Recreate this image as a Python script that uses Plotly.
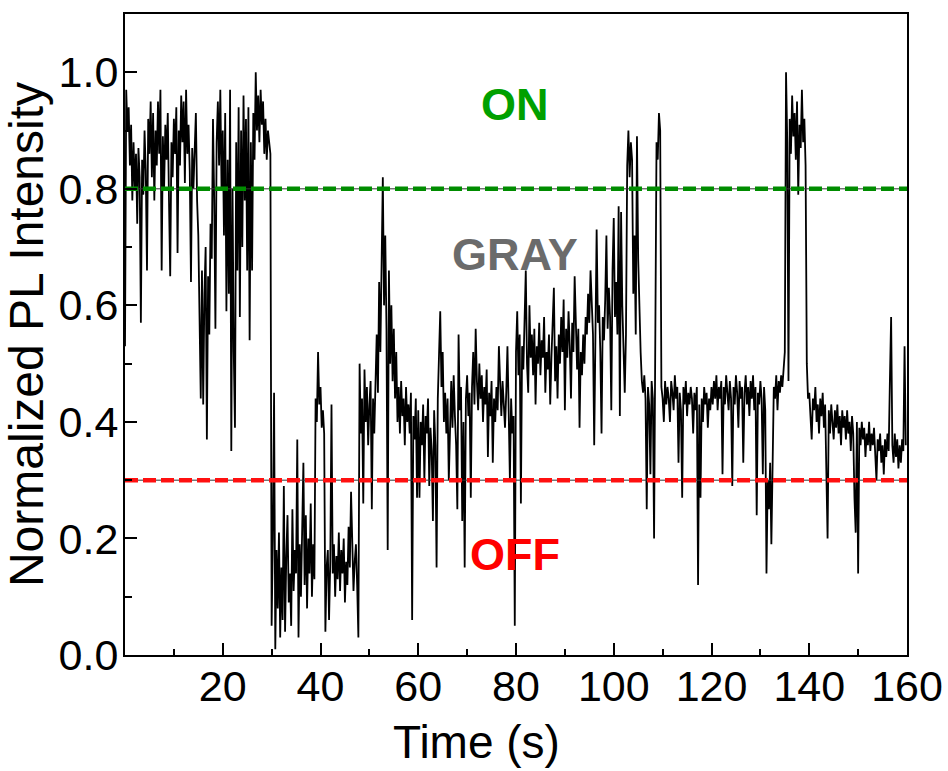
import plotly.graph_objects as go

STEP = 0.25

# Normalized PL intensity, in 20 s blocks
block_00_20 = [0.53, 0.97, 0.90, 0.94, 0.84, 0.91, 0.78, 0.88, 0.80, 0.86, 0.74, 0.87, 0.82, 0.57, 0.85, 0.79,
               0.90, 0.83, 0.66, 0.92, 0.86, 0.95, 0.82, 0.93, 0.78, 0.90, 0.84, 0.95, 0.86, 0.97, 0.66, 0.89,
               0.80, 0.91, 0.85, 0.93, 0.78, 0.65, 0.88, 0.82, 0.92, 0.86, 0.94, 0.69, 0.90, 0.84, 0.96, 0.88,
               0.95, 0.81, 0.97, 0.86, 0.91, 0.83, 0.64, 0.87, 0.80, 0.89, 0.93, 0.78, 0.72, 0.58, 0.44, 0.66,
               0.43, 0.62, 0.70, 0.37, 0.65, 0.55, 0.74, 0.68, 0.92, 0.78, 0.56, 0.88, 0.95, 0.84, 0.97, 0.80]
block_20_40 = [0.90, 0.72, 0.93, 0.59, 0.85, 0.62, 0.97, 0.35, 0.80, 0.52, 0.39, 0.88, 0.66, 0.94, 0.58, 0.90,
               0.70, 0.96, 0.78, 0.92, 0.66, 0.94, 0.54, 0.88, 0.66, 0.93, 0.85, 1.00, 0.90, 0.96, 0.88, 0.97,
               0.91, 0.95, 0.86, 0.92, 0.85, 0.90, 0.88, 0.86, 0.05, 0.20, 0.45, 0.01, 0.18, 0.08, 0.21, 0.03,
               0.15, 0.06, 0.29, 0.04, 0.17, 0.24, 0.09, 0.14, 0.05, 0.25, 0.11, 0.18, 0.14, 0.37, 0.03, 0.19,
               0.10, 0.22, 0.33, 0.12, 0.24, 0.08, 0.20, 0.14, 0.26, 0.10, 0.19, 0.13, 0.44, 0.40, 0.52, 0.43]
block_40_60 = [0.46, 0.39, 0.42, 0.38, 0.04, 0.15, 0.18, 0.06, 0.16, 0.43, 0.14, 0.19, 0.10, 0.17, 0.13, 0.21,
               0.11, 0.18, 0.14, 0.20, 0.09, 0.16, 0.12, 0.22, 0.15, 0.28, 0.18, 0.11, 0.16, 0.19, 0.12, 0.03,
               0.50, 0.38, 0.44, 0.26, 0.49, 0.40, 0.46, 0.36, 0.43, 0.47, 0.25, 0.44, 0.38, 0.48, 0.55, 0.45,
               0.64, 0.52, 0.70, 0.82, 0.60, 0.72, 0.56, 0.18, 0.66, 0.50, 0.60, 0.47, 0.56, 0.44, 0.52, 0.40,
               0.46, 0.38, 0.47, 0.41, 0.44, 0.36, 0.46, 0.40, 0.43, 0.38, 0.45, 0.06, 0.41, 0.37, 0.44, 0.27]
block_60_80 = [0.42, 0.27, 0.40, 0.36, 0.43, 0.30, 0.41, 0.38, 0.44, 0.29, 0.39, 0.35, 0.23, 0.42, 0.36, 0.15,
               0.44, 0.50, 0.59, 0.46, 0.52, 0.40, 0.45, 0.38, 0.44, 0.30, 0.42, 0.47, 0.39, 0.48, 0.41, 0.36,
               0.25, 0.55, 0.42, 0.46, 0.23, 0.40, 0.15, 0.44, 0.48, 0.41, 0.45, 0.27, 0.46, 0.52, 0.43, 0.56,
               0.47, 0.42, 0.50, 0.44, 0.48, 0.40, 0.46, 0.43, 0.49, 0.34, 0.45, 0.41, 0.47, 0.33, 0.44, 0.40,
               0.46, 0.42, 0.53, 0.45, 0.41, 0.47, 0.43, 0.39, 0.45, 0.53, 0.42, 0.30, 0.44, 0.38, 0.41, 0.05]
block_80_100 = [0.52, 0.59, 0.48, 0.55, 0.26, 0.53, 0.49, 0.57, 0.66, 0.50, 0.45, 0.60, 0.51, 0.55, 0.48, 0.56,
                0.43, 0.53, 0.50, 0.57, 0.48, 0.54, 0.51, 0.58, 0.45, 0.52, 0.49, 0.55, 0.43, 0.51, 0.56, 0.63,
                0.47, 0.53, 0.44, 0.55, 0.50, 0.58, 0.52, 0.61, 0.42, 0.56, 0.51, 0.59, 0.53, 0.44, 0.57, 0.52,
                0.65, 0.54, 0.49, 0.56, 0.39, 0.52, 0.48, 0.55, 0.50, 0.58, 0.55, 0.62, 0.57, 0.66, 0.59, 0.55,
                0.36, 0.61, 0.73, 0.57, 0.60, 0.52, 0.38, 0.58, 0.54, 0.61, 0.72, 0.56, 0.63, 0.58, 0.42, 0.66]
block_100_120 = [0.75, 0.58, 0.64, 0.55, 0.77, 0.41, 0.76, 0.60, 0.52, 0.45, 0.55, 0.84, 0.90, 0.82, 0.88, 0.85,
                 0.62, 0.72, 0.55, 0.89, 0.68, 0.58, 0.52, 0.47, 0.45, 0.48, 0.44, 0.25, 0.46, 0.43, 0.31, 0.47,
                 0.44, 0.20, 0.60, 0.88, 0.85, 0.93, 0.90, 0.46, 0.44, 0.40, 0.47, 0.43, 0.46, 0.44, 0.40, 0.47,
                 0.45, 0.42, 0.48, 0.44, 0.46, 0.33, 0.45, 0.42, 0.27, 0.46, 0.43, 0.47, 0.41, 0.45, 0.43, 0.46,
                 0.44, 0.38, 0.45, 0.42, 0.46, 0.12, 0.43, 0.27, 0.44, 0.40, 0.46, 0.43, 0.45, 0.39, 0.44, 0.42]
block_120_140 = [0.46, 0.43, 0.47, 0.44, 0.48, 0.42, 0.46, 0.44, 0.47, 0.31, 0.46, 0.43, 0.48, 0.45, 0.42, 0.47,
                 0.44, 0.29, 0.46, 0.43, 0.48, 0.45, 0.39, 0.47, 0.44, 0.46, 0.33, 0.45, 0.48, 0.43, 0.46, 0.41,
                 0.47, 0.44, 0.48, 0.42, 0.46, 0.24, 0.45, 0.43, 0.47, 0.44, 0.31, 0.46, 0.42, 0.14, 0.30, 0.25,
                 0.33, 0.19, 0.31, 0.46, 0.44, 0.48, 0.42, 0.47, 0.45, 0.48, 0.46, 0.50, 0.52, 1.00, 0.88, 0.47,
                 0.92, 0.86, 0.96, 0.89, 0.93, 0.85, 0.95, 0.79, 0.91, 0.87, 0.97, 0.88, 0.92, 0.84, 0.50, 0.44]
block_140_160 = [0.45, 0.41, 0.37, 0.44, 0.42, 0.46, 0.40, 0.43, 0.38, 0.44, 0.41, 0.45, 0.39, 0.43, 0.34, 0.20,
                 0.42, 0.38, 0.43, 0.40, 0.37, 0.42, 0.39, 0.43, 0.38, 0.41, 0.36, 0.42, 0.39, 0.41, 0.37, 0.42,
                 0.38, 0.40, 0.35, 0.41, 0.38, 0.27, 0.21, 0.40, 0.14, 0.39, 0.36, 0.40, 0.37, 0.39, 0.34, 0.38,
                 0.36, 0.40, 0.35, 0.38, 0.36, 0.39, 0.33, 0.30, 0.37, 0.35, 0.38, 0.33, 0.36, 0.31, 0.37, 0.34,
                 0.38, 0.35, 0.47, 0.58, 0.36, 0.33, 0.38, 0.34, 0.37, 0.32, 0.36, 0.33, 0.37, 0.35, 0.53, 0.36]

intensity = (block_00_20 + block_20_40 + block_40_60 + block_60_80 +
             block_80_100 + block_100_120 + block_120_140 + block_140_160)
time_s = [i * STEP for i in range(len(intensity))]

# Threshold levels and labels
ON_LEVEL = 0.8
OFF_LEVEL = 0.3
X_RANGE = [0, 160]
Y_RANGE = [0, 1.1]
x_ticks = [20, 40, 60, 80, 100, 120, 140, 160]
y_ticks = [0.0, 0.2, 0.4, 0.6, 0.8, 1.0]
state_labels = ["ON", "GRAY", "OFF"]
state_label_y = [0.945, 0.687, 0.172]
state_label_x = 79.7
state_colors = ["#00a000", "#6b6b6b", "#ff0000"]

FONT = "Liberation Sans, Arial, Helvetica, sans-serif"

fig = go.Figure()
fig.add_trace(go.Scatter(x=time_s, y=intensity, mode="lines",
                         line=dict(color="black", width=1.8), showlegend=False, hoverinfo="skip"))

for level, col in [(ON_LEVEL, "#008c00"), (OFF_LEVEL, "#ff1010")]:
    fig.add_trace(go.Scatter(x=X_RANGE, y=[level, level], mode="lines",
                             line=dict(color="#333333", width=1), showlegend=False, hoverinfo="skip"))
    fig.add_trace(go.Scatter(x=X_RANGE, y=[level, level], mode="lines",
                             line=dict(color=col, width=4.5, dash="13px,5px"), showlegend=False, hoverinfo="skip"))

for txt, yy, col in zip(state_labels, state_label_y, state_colors):
    fig.add_annotation(x=state_label_x, y=yy, xref="x", yref="y", text=txt, showarrow=False,
                       font=dict(family=FONT, size=45, color=col, weight="bold"),
                       xanchor="center", yanchor="middle")

# x-axis title, placed as in the reference (slightly left of the plot centre)
fig.add_annotation(x=0.449, y=-0.136, xref="paper", yref="paper", text="Time (s)", showarrow=False,
                   font=dict(family=FONT, size=46, color="black"), xanchor="center", yanchor="middle")

fig.update_layout(
    width=948, height=771,
    margin=dict(l=125, r=41, t=14, b=116, autoexpand=False),
    paper_bgcolor="white", plot_bgcolor="white",
    font=dict(family=FONT, color="black"),
    showlegend=False,
)
fig.update_xaxes(
    range=X_RANGE, tickvals=x_ticks, ticktext=[str(v) for v in x_ticks],
    ticks="inside", ticklen=12, tickwidth=1.5, tickcolor="black",
    minor=dict(dtick=10, tick0=0, ticks="inside", ticklen=6, tickwidth=1.5, tickcolor="black"),
    showline=True, linecolor="black", linewidth=2, mirror=True,
    showgrid=False, zeroline=False, ticklabelstandoff=-8,
    tickfont=dict(family=FONT, size=43, color="black"),
)
fig.update_yaxes(
    range=Y_RANGE, tickvals=y_ticks, ticktext=[f"{v:.1f}" for v in y_ticks],
    ticks="inside", ticklen=12, tickwidth=1.5, tickcolor="black",
    minor=dict(dtick=0.1, tick0=0, ticks="inside", ticklen=7, tickwidth=1.5, tickcolor="black"),
    showline=True, linecolor="black", linewidth=2, mirror=True,
    showgrid=False, zeroline=False, ticklabelstandoff=-4,
    tickfont=dict(family=FONT, size=43, color="black"),
    title=dict(text="Normalized PL Intensity", font=dict(family=FONT, size=48, color="black"), standoff=12),
)

fig.write_html("out.html")
